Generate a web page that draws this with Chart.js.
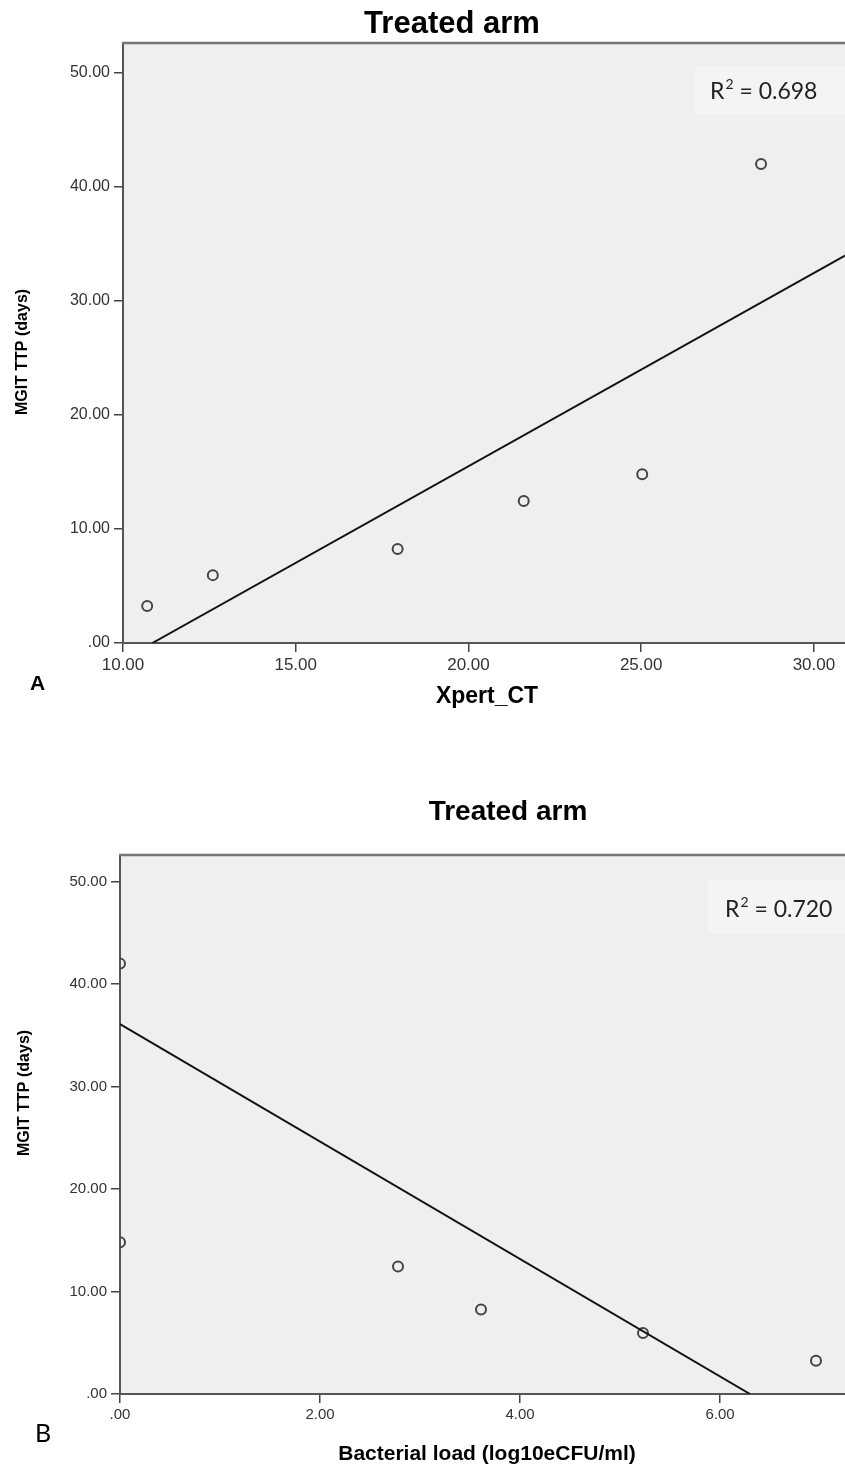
<!DOCTYPE html>
<html>
<head>
<meta charset="utf-8">
<title>Treated arm</title>
<script src="https://cdn.jsdelivr.net/npm/chart.js@4.4.1/dist/chart.umd.min.js"></script>
<style>
  html, body { margin: 0; padding: 0; background: #fff; overflow: hidden; }
  #wrap { position: relative; width: 845px; height: 1467px; }
  canvas { position: absolute; left: 0; }
  #ct-chart { top: 0; }
  #load-chart { top: 760px; }
</style>
</head>
<body>
<div id="wrap">
  <canvas id="ct-chart" width="845" height="720"></canvas>
  <canvas id="load-chart" width="845" height="707"></canvas>
</div>
<script>
// MGIT time to positivity per patient (same patients in both panels)
const ttpDays = [3.25, 5.95, 8.25, 12.45, 14.8, 42.0];
// Panel A: Xpert cycle threshold
const ctValues = [10.7, 12.6, 17.95, 21.6, 25.03, 28.47];
// Panel B: bacterial load, log10 eCFU/ml
const loadValues = [6.96, 5.23, 3.61, 2.78, 0.0, 0.0];

// fitted lines (end points)
const ctFitX = [10.85, 30.9];
const ctFitY = [0, 33.96];
const loadFitX = [0, 6.3];
const loadFitY = [36.1, 0];

const ctR2 = '0.698';
const loadR2 = '0.720';

const yTicks = [0, 10, 20, 30, 40, 50];

function toPoints(xs, ys) {
  return xs.map((x, i) => ({ x: x, y: ys[i] }));
}

function fmt(v) {
  return v === 0 ? '.00' : v.toFixed(2);
}

// plot background, top frame line, titles and the R² box
const panelDecor = {
  id: 'panelDecor',
  beforeDraw(chart, args, o) {
    const { ctx, chartArea: a } = chart;
    ctx.save();
    ctx.fillStyle = '#efefef';
    ctx.fillRect(a.left, a.top, a.right - a.left, a.bottom - a.top);
    // R² label box
    ctx.fillStyle = '#f4f4f4';
    ctx.fillRect(o.r2Box[0], o.r2Box[1], o.r2Box[2], o.r2Box[3]);
    ctx.restore();
  },
  afterDraw(chart, args, o) {
    const { ctx, chartArea: a } = chart;
    ctx.save();
    ctx.strokeStyle = '#777';
    ctx.lineWidth = 2.5;
    ctx.beginPath();
    ctx.moveTo(a.left - 1, a.top);
    ctx.lineTo(a.right, a.top);
    ctx.stroke();

    ctx.fillStyle = '#000';
    ctx.textAlign = 'center';
    ctx.textBaseline = 'alphabetic';
    ctx.font = 'bold ' + o.titleSize + 'px "Liberation Sans", Arial, sans-serif';
    ctx.fillText('Treated arm', o.titleAt[0], o.titleAt[1]);

    ctx.textBaseline = 'middle';
    ctx.font = 'bold ' + o.xTitleSize + 'px "Liberation Sans", Arial, sans-serif';
    ctx.fillText(o.xTitle, o.xTitleAt[0], o.xTitleAt[1]);

    ctx.save();
    ctx.translate(o.yTitleAt[0], o.yTitleAt[1]);
    ctx.rotate(-Math.PI / 2);
    ctx.font = 'bold 16px "Liberation Sans", Arial, sans-serif';
    ctx.fillText('MGIT TTP (days)', 0, 0);
    ctx.restore();

    ctx.textAlign = 'left';
    ctx.textBaseline = 'alphabetic';
    ctx.font = o.letterFont;
    ctx.fillText(o.letter, o.letterAt[0], o.letterAt[1]);

    // R² = value
    ctx.fillStyle = '#222';
    const s = o.r2Size;
    let x = o.r2At[0];
    const y = o.r2At[1];
    ctx.font = s + 'px Lato, "Open Sans", sans-serif';
    ctx.fillText('R', x, y);
    x += ctx.measureText('R').width + 1;
    ctx.font = Math.round(s * 0.62) + 'px Lato, "Open Sans", sans-serif';
    ctx.fillText('2', x, y - s * 0.42);
    x += ctx.measureText('2').width;
    ctx.font = s + 'px Lato, "Open Sans", sans-serif';
    ctx.fillText(' = ' + o.r2, x, y);
    ctx.restore();
  }
};

function makeChart(id, cfg) {
  const pts = {
    type: 'scatter',
    data: toPoints(cfg.xs, ttpDays),
    pointRadius: 5,
    pointHoverRadius: 5,
    pointBorderColor: '#444',
    pointBackgroundColor: 'rgba(0,0,0,0)',
    pointBorderWidth: 2,
    showLine: false
  };
  const fit = {
    type: 'line',
    data: toPoints(cfg.fitX, cfg.fitY),
    borderColor: '#111',
    borderWidth: 2,
    pointRadius: 0,
    fill: false,
    tension: 0
  };
  return new Chart(document.getElementById(id), {
    type: 'scatter',
    data: { datasets: [fit, pts] },
    plugins: [panelDecor],
    options: {
      responsive: false,
      animation: false,
      devicePixelRatio: 1,
      layout: {
        autoPadding: false,
        padding: { top: cfg.areaTop, left: 0, right: 0, bottom: 0 }
      },
      plugins: {
        legend: { display: false },
        title: { display: false },
        tooltip: { enabled: false },
        panelDecor: cfg.decor
      },
      scales: {
        x: {
          type: 'linear',
          min: cfg.xMin,
          max: cfg.xMax,
          afterFit: s => {
            s.height = cfg.xAxisH;
            s.paddingLeft = 0;
            s.paddingRight = 0;
          },
          border: { display: true, color: '#555', width: 2 },
          grid: { drawOnChartArea: false, drawTicks: true, tickLength: 9, color: '#444', lineWidth: 1.5 },
          ticks: {
            stepSize: cfg.xStep,
            includeBounds: false,
            maxRotation: 0,
            padding: 3,
            color: '#333',
            font: { family: '"Liberation Sans", Arial, sans-serif', size: cfg.xTickSize },
            callback: v => fmt(v)
          }
        },
        y: {
          type: 'linear',
          min: 0,
          max: 52.6,
          afterFit: s => {
            s.width = cfg.yAxisW;
            s.paddingTop = 0;
            s.paddingBottom = 0;
          },
          afterBuildTicks: s => { s.ticks = yTicks.map(v => ({ value: v })); },
          border: { display: true, color: '#555', width: 2 },
          grid: { drawOnChartArea: false, drawTicks: true, tickLength: 9, color: '#444', lineWidth: 1.5 },
          ticks: {
            padding: 4,
            color: '#333',
            font: { family: '"Liberation Sans", Arial, sans-serif', size: cfg.yTickSize },
            callback: v => fmt(v)
          }
        }
      }
    }
  });
}

makeChart('ct-chart', {
  xs: ctValues, fitX: ctFitX, fitY: ctFitY,
  xMin: 10, xMax: 30.9, xStep: 5,
  areaTop: 43, xAxisH: 77, yAxisW: 123,
  xTickSize: 17, yTickSize: 16,
  decor: {
    titleAt: [452, 33], titleSize: 31,
    xTitle: 'Xpert_CT', xTitleAt: [487, 697], xTitleSize: 23,
    yTitleAt: [23, 352],
    letter: 'A', letterAt: [30, 690], letterFont: 'bold 21px "Liberation Sans", Arial, sans-serif',
    r2: ctR2, r2At: [710, 99], r2Size: 23, r2Box: [695, 67, 150, 48]
  }
});

makeChart('load-chart', {
  xs: loadValues, fitX: loadFitX, fitY: loadFitY,
  xMin: 0, xMax: 7.25, xStep: 2,
  areaTop: 95, xAxisH: 73, yAxisW: 120,
  xTickSize: 15, yTickSize: 15,
  decor: {
    titleAt: [508, 60], titleSize: 28,
    xTitle: 'Bacterial load (log10eCFU/ml)', xTitleAt: [487, 694], xTitleSize: 21,
    yTitleAt: [25, 333],
    letter: 'B', letterAt: [35, 682], letterFont: '25px Lato, "Open Sans", sans-serif',
    r2: loadR2, r2At: [725, 157], r2Size: 23, r2Box: [708, 120, 137, 53]
  }
});
</script>
</body>
</html>
